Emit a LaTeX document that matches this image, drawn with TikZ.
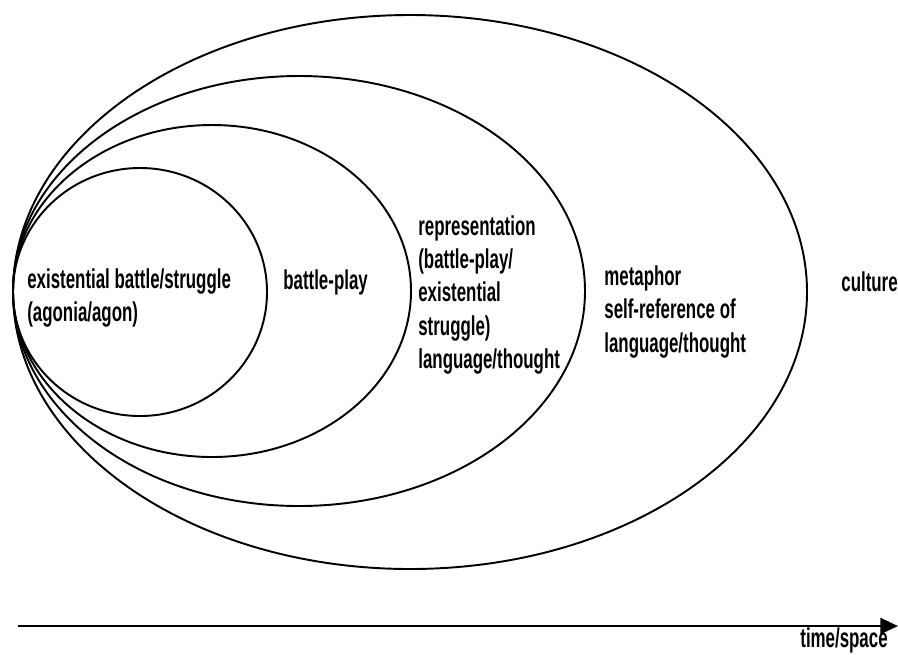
\documentclass[tikz,border=0pt]{standalone}
\usepackage{fontspec}
\setmainfont{Liberation Sans}[FakeStretch=0.62]
\usetikzlibrary{arrows.meta,positioning}
\tikzset{
	ring/.style={line width=1.1pt},
	label text/.style={anchor=west, align=left, inner sep=0pt,
		font=\bfseries\fontsize{15.5}{18.8}\selectfont},
}
\begin{document}
\begin{tikzpicture}[x=0.02cm,y=-0.02cm]
	\useasboundingbox (0,0) rectangle (898,654);
	%Centres of the nested rings
	\coordinate (c1) at (140,292);
	\coordinate (c2) at (212,291);
	\coordinate (c3) at (299,291);
	\coordinate (c4) at (410,292);
	%The rings, all touching on the left
	\draw[ring] (c1) ellipse [x radius=127, y radius=124];
	\draw[ring] (c2) ellipse [x radius=199, y radius=166];
	\draw[ring] (c3) ellipse [x radius=286, y radius=215];
	\draw[ring] (c4) ellipse [x radius=397, y radius=277];
	%Texts in the rings
	\node[label text] (agon) at (27,298) {existential battle/struggle\\(agonia/agon)};
	\node[label text] (play) at (283,282) {battle-play};
	\node[label text] (repr) at (418,295) {representation\\(battle-play/\\existential\\struggle)\\language/thought};
	\node[label text] (meta) at (604,312) {metaphor\\self-reference of\\language/thought};
	\node[label text] (cult) at (841,282) {culture};
	%The axis
	\coordinate (start) at (18,626);
	\coordinate (end) at (898,626);
	\draw[line width=1.5pt,-{Triangle[length=10pt,width=9pt]}] (start) -- (end);
	\node[label text, anchor=south east] (axis) at (888,653.5) {time/space};
\end{tikzpicture}
\end{document}
